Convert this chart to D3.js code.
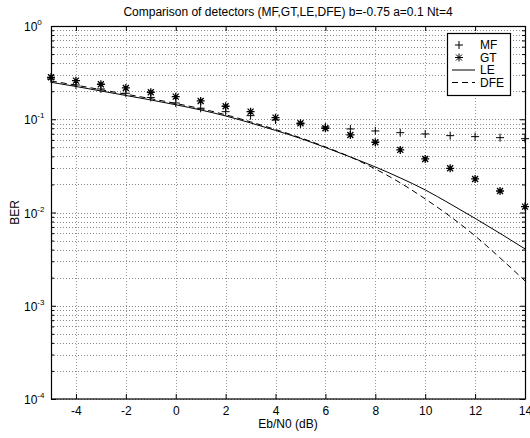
<!DOCTYPE html>
<html>
<head>
<meta charset="utf-8">
<script src="https://cdn.jsdelivr.net/npm/d3@7"></script>
<style>
  body { margin: 0; background: #fff; }
  text { font-family: 'Liberation Sans', Arial, sans-serif; fill: #000; }
</style>
</head>
<body>
<div id="chart"></div>
<script>
// BER curves, values
const snr = [-5, -4, -3, -2, -1, 0, 1, 2, 3, 4, 5, 6, 7, 8, 9, 10, 11, 12, 13, 14]
const berMF = [0.2703, 0.2332, 0.2113, 0.1900, 0.1713, 0.1495, 0.1312, 0.1206, 0.1093, 0.0983,
  0.0891, 0.0827, 0.0787, 0.0749, 0.0718, 0.0696, 0.0667, 0.0651, 0.0635, 0.0619]
const berGT = [0.2819, 0.2594, 0.2372, 0.2165, 0.1948, 0.1747, 0.1571, 0.1378, 0.1206, 0.1040,
  0.0906, 0.0801, 0.0679, 0.0567, 0.0469, 0.0375, 0.0298, 0.0229, 0.0170, 0.01157]
const berLE = [0.2492, 0.2247, 0.2011, 0.1799, 0.1610, 0.1430, 0.1258, 0.1085, 0.0913, 0.0759,
  0.0623, 0.0498, 0.0394, 0.0308, 0.0235, 0.01747, 0.01237, 0.00865, 0.00597, 0.00407]
const berDFE = [0.2573, 0.2320, 0.2077, 0.1858, 0.1662, 0.1477, 0.1299, 0.1117, 0.0938, 0.0776,
  0.0633, 0.0505, 0.0394, 0.0293, 0.0208, 0.01399, 0.00908, 0.00561, 0.00326, 0.00185]

const xTicks = [-4, -2, 0, 2, 4, 6, 8, 10, 12, 14]
const yExps = [0, -1, -2, -3, -4]
const legendNames = ['MF', 'GT', 'LE', 'DFE']

const margin = { top: 26, right: 5, bottom: 39, left: 51 }
const W = 530
const H = 438
const width = W - margin.left - margin.right
const height = H - margin.top - margin.bottom

const svg = d3
  .select('#chart')
  .append('svg')
  .attr('width', W)
  .attr('height', H)

const g = svg
  .append('g')
  .attr('transform', 'translate(' + margin.left + ',' + margin.top + ')')

const x = d3.scaleLinear().domain([-5, 14]).range([0, width])
const y = d3.scaleLog().domain([1e-4, 1]).range([height, 0])

// minor values for the log grid
const yMinor = []
yExps.slice(0, -1).forEach(e => {
  for (let k = 1; k <= 9; k++) yMinor.push(k * Math.pow(10, e - 1))
})

// GRID
g.append('g')
  .selectAll('line')
  .data(yMinor)
  .enter()
  .append('line')
  .attr('x1', 0)
  .attr('x2', width)
  .attr('y1', d => Math.round(y(d)) + 0.5)
  .attr('y2', d => Math.round(y(d)) + 0.5)
  .attr('stroke', '#888')
  .attr('stroke-dasharray', '1,2')

g.append('g')
  .selectAll('line')
  .data(xTicks.slice(0, -1))
  .enter()
  .append('line')
  .attr('x1', d => Math.round(x(d)) + 0.5)
  .attr('x2', d => Math.round(x(d)) + 0.5)
  .attr('y1', 0)
  .attr('y2', height)
  .attr('stroke', '#999')
  .attr('stroke-dasharray', '1,2')

// AXES (ticks point inward, MATLAB style)
const xAxis = d3.axisBottom(x)
  .tickValues(xTicks)
  .tickSizeInner(-5)
  .tickSizeOuter(0)
  .tickFormat(d => String(d))
g.append('g')
  .attr('class', 'x-axis')
  .attr('transform', 'translate(0,' + height + ')')
  .call(xAxis)
  .call(a => a.select('.domain').remove())
  .call(a => a.selectAll('text').attr('font-size', 12).attr('dy', null).attr('y', 16))

g.append('g')
  .call(d3.axisTop(x).tickValues(xTicks).tickSizeInner(-5).tickSizeOuter(0).tickFormat(''))
  .call(a => a.select('.domain').remove())

const majorY = yExps.map(e => Math.pow(10, e))
const minorOnly = yMinor.filter(d => !majorY.some(m => Math.abs(m - d) < 1e-12))

g.append('g')
  .call(d3.axisLeft(y).tickValues(majorY).tickSizeInner(-5).tickSizeOuter(0).tickFormat(''))
  .call(a => a.select('.domain').remove())
g.append('g')
  .call(d3.axisLeft(y).tickValues(minorOnly).tickSizeInner(-3).tickSizeOuter(0).tickFormat(''))
  .call(a => a.select('.domain').remove())
g.append('g')
  .attr('transform', 'translate(' + width + ',0)')
  .call(d3.axisRight(y).tickValues(majorY).tickSizeInner(-5).tickSizeOuter(0).tickFormat(''))
  .call(a => a.select('.domain').remove())
g.append('g')
  .attr('transform', 'translate(' + width + ',0)')
  .call(d3.axisRight(y).tickValues(minorOnly).tickSizeInner(-3).tickSizeOuter(0).tickFormat(''))
  .call(a => a.select('.domain').remove())

// y tick labels as 10^n
const yLab = g.append('g')
  .selectAll('text')
  .data(yExps)
  .enter()
  .append('text')
  .attr('x', -27)
  .attr('y', d => y(Math.pow(10, d)) + 5)
  .attr('font-size', 12)
yLab.append('tspan').text('10')
yLab.append('tspan')
  .attr('dy', -6)
  .attr('font-size', 8)
  .text(d => String(d))

// box
g.append('rect')
  .attr('x', 0.5)
  .attr('y', 0.5)
  .attr('width', width)
  .attr('height', height - 0.5)
  .attr('fill', 'none')
  .attr('stroke', '#000')
  .attr('stroke-width', 1.2)

// CURVES
const line = d3.line()
  .x((d, i) => x(snr[i]))
  .y(d => y(d))
  .curve(d3.curveMonotoneX)

g.append('path')
  .datum(berLE)
  .attr('d', line)
  .attr('fill', 'none')
  .attr('stroke', '#000')
  .attr('stroke-width', 1)

g.append('path')
  .datum(berDFE)
  .attr('d', line)
  .attr('fill', 'none')
  .attr('stroke', '#000')
  .attr('stroke-width', 1)
  .attr('stroke-dasharray', '6,4')

// markers
function plusPath(s) {
  return 'M' + -s + ',0H' + s + 'M0,' + -s + 'V' + s
}
function starPath(s) {
  const t = s * 0.75
  return plusPath(s) + 'M' + -t + ',' + -t + 'L' + t + ',' + t + 'M' + -t + ',' + t + 'L' + t + ',' + -t
}

g.append('g')
  .selectAll('path')
  .data(berMF)
  .enter()
  .append('path')
  .attr('transform', (d, i) => 'translate(' + x(snr[i]) + ',' + y(d) + ')')
  .attr('d', plusPath(4))
  .attr('stroke', '#000')
  .attr('stroke-width', 1)

g.append('g')
  .selectAll('path')
  .data(berGT)
  .enter()
  .append('path')
  .attr('transform', (d, i) => 'translate(' + x(snr[i]) + ',' + y(d) + ')')
  .attr('d', starPath(4))
  .attr('stroke', '#000')
  .attr('stroke-width', 1.3)

// TITLES
svg.append('text')
  .attr('x', margin.left + width / 2)
  .attr('y', 16)
  .attr('text-anchor', 'middle')
  .attr('font-size', 12)
  .text('Comparison of detectors (MF,GT,LE,DFE) b=-0.75 a=0.1 Nt=4')

svg.append('text')
  .attr('x', margin.left + width / 2)
  .attr('y', 428)
  .attr('text-anchor', 'middle')
  .attr('font-size', 12)
  .text('Eb/N0 (dB)')

svg.append('text')
  .attr('transform', 'translate(19,' + (margin.top + height / 2) + ') rotate(-90)')
  .attr('text-anchor', 'middle')
  .attr('font-size', 12)
  .text('BER')

// LEGEND
const lg = svg.append('g').attr('transform', 'translate(447,33)')
lg.append('rect')
  .attr('x', 0.5)
  .attr('y', 0.5)
  .attr('width', 63)
  .attr('height', 62)
  .attr('fill', '#fff')
  .attr('stroke', '#000')
  .attr('stroke-width', 1.2)

const rowY = i => 12 + i * 12.5
lg.selectAll('.leg-text')
  .data(legendNames)
  .enter()
  .append('text')
  .attr('class', 'leg-text')
  .attr('x', 33)
  .attr('y', (d, i) => rowY(i) + 4)
  .attr('font-size', 12)
  .text(d => d)

lg.append('path').attr('transform', 'translate(12,' + rowY(0) + ')').attr('d', plusPath(4)).attr('stroke', '#000')
lg.append('path').attr('transform', 'translate(12,' + rowY(1) + ')').attr('d', starPath(4)).attr('stroke', '#000')
lg.append('line').attr('x1', 5).attr('x2', 28).attr('y1', rowY(2)).attr('y2', rowY(2)).attr('stroke', '#000')
lg.append('line').attr('x1', 5).attr('x2', 28).attr('y1', rowY(3)).attr('y2', rowY(3)).attr('stroke', '#000')
  .attr('stroke-dasharray', '6,4')
</script>
</body>
</html>
